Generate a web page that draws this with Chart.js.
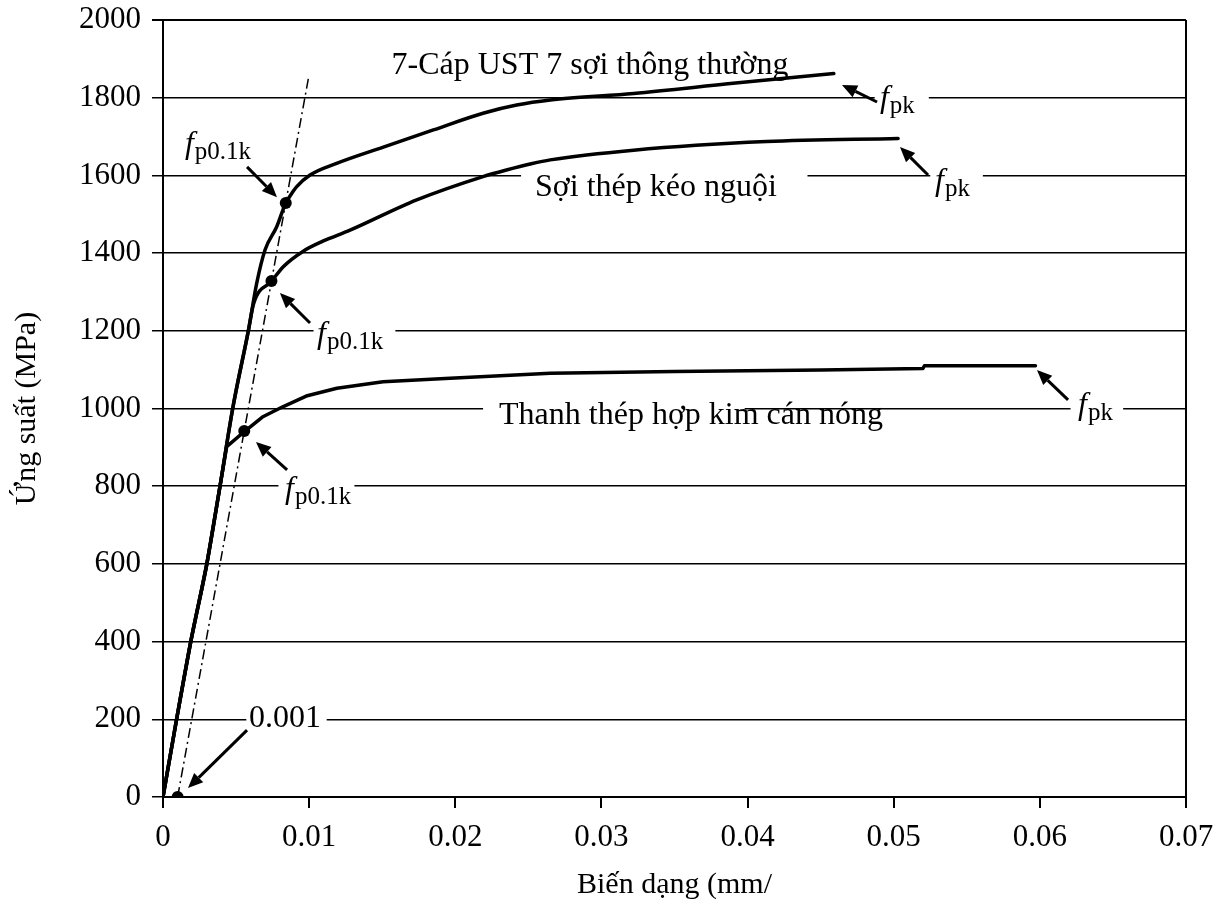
<!DOCTYPE html>
<html>
<head>
<meta charset="utf-8">
<script src="https://cdn.jsdelivr.net/npm/chart.js@4"></script>
<style>
  body { margin: 0; background: #fff; }
  canvas { display: block; }
</style>
</head>
<body>
<canvas id="stressChart" width="1224" height="903"></canvas>
<script>
// --- Data (strain, stress in MPa) ---
const strandStrain = [0, 0.00093, 0.0019, 0.003, 0.0039, 0.00477, 0.00584, 0.00641, 0.00698, 0.00778, 0.0084, 0.0088, 0.00915, 0.01006, 0.01188, 0.01508, 0.0185, 0.0219, 0.0242, 0.0265, 0.0322, 0.039, 0.0459];
const strandStress = [0, 200, 400, 600, 800, 1000, 1200, 1322, 1408, 1468, 1529, 1553, 1571, 1601, 1631, 1673, 1717, 1760, 1781, 1794, 1811, 1837, 1862];

const wireStrain = [0, 0.00093, 0.0019, 0.003, 0.0039, 0.00477, 0.00584, 0.0062, 0.00744, 0.00823, 0.0096, 0.0109, 0.0128, 0.01736, 0.0219, 0.0235, 0.0252, 0.0265, 0.0322, 0.0413, 0.0503];
const wireStress = [0, 200, 400, 600, 800, 1000, 1200, 1270, 1328, 1365, 1405, 1430, 1459, 1537, 1597, 1614, 1630, 1640, 1665, 1687, 1695];

const barStrain = [0, 0.00093, 0.0019, 0.003, 0.0039, 0.00436, 0.00561, 0.0068, 0.00823, 0.0098, 0.0119, 0.01506, 0.01964, 0.0265, 0.035, 0.045, 0.052, 0.0521, 0.0597];
const barStress = [0, 200, 400, 600, 800, 902, 942, 978, 1005, 1032, 1052, 1069, 1078, 1091, 1095, 1099, 1103, 1110, 1110];

// 0.1% offset line
const offsetStrain = [0.001, 0.00995];
const offsetStress = [0, 1850];

// proof-stress points
const proofStrain = [0.001, 0.0084, 0.00742, 0.00556];
const proofStress = [0, 1529, 1328, 942];

const yTicks = [0, 200, 400, 600, 800, 1000, 1200, 1400, 1600, 1800, 2000];
const xTicks = [0, 0.01, 0.02, 0.03, 0.04, 0.05, 0.06, 0.07];

// --- Annotations (in data units) ---
const plainText = ['7-Cáp UST 7 sợi thông thường', 'Sợi thép kéo nguội', 'Thanh thép hợp kim cán nóng', '0.001'];
const plainX = [0.02922, 0.03373, 0.03613, 0.00835];
const plainY = [1882, 1568, 981, 203];

const fSub = ['pk', 'pk', 'pk', 'p0.1k', 'p0.1k', 'p0.1k'];
const fX = [0.04906, 0.05283, 0.06261, 0.0015, 0.01054, 0.00835];
const fY = [1776, 1562, 986, 1658, 1169, 770];

const arrowFromX = [0.00575, 0.01006, 0.00849, 0.00575, 0.04886, 0.05235, 0.06193];
const arrowFromY = [1622, 1220, 842, 172, 1789, 1601, 1022];
const arrowToX = [0.0078, 0.0080, 0.00636, 0.00171, 0.04646, 0.05043, 0.0598];
const arrowToY = [1544, 1297, 914, 23, 1833, 1673, 1099];

// gridline breaks behind labels
const gapLevel = [1800, 1600, 1600, 1200, 1000, 1000, 800, 200];
const gapFrom = [0.0487, 0.0245, 0.0525, 0.0103, 0.0219, 0.0621, 0.0079, 0.0057];
const gapTo = [0.0524, 0.0441, 0.0561, 0.0159, 0.0398, 0.0657, 0.0131, 0.0112];

const SERIF = '"Liberation Serif", "DejaVu Serif", serif';

function toPoints(xs, ys) {
    return xs.map((x, i) => ({ x: x, y: ys[i] }));
}

function drawArrow(ctx, x1, y1, x2, y2) {
    const ang = Math.atan2(y2 - y1, x2 - x1);
    const len = 15, half = 6.5;
    const bx = x2 - len * Math.cos(ang), by = y2 - len * Math.sin(ang);
    ctx.beginPath();
    ctx.moveTo(x1, y1);
    ctx.lineTo(bx, by);
    ctx.stroke();
    ctx.beginPath();
    ctx.moveTo(x2, y2);
    ctx.lineTo(bx + half * Math.sin(ang), by - half * Math.cos(ang));
    ctx.lineTo(bx - half * Math.sin(ang), by + half * Math.cos(ang));
    ctx.closePath();
    ctx.fill();
}

const notesPlugin = {
    id: 'notes',
    beforeDatasetsDraw(chart) {
        const { ctx, scales: { x, y } } = chart;
        ctx.save();
        ctx.fillStyle = '#fff';
        gapLevel.forEach((lv, i) => {
            const py = y.getPixelForValue(lv);
            const x1 = x.getPixelForValue(gapFrom[i]);
            const x2 = x.getPixelForValue(gapTo[i]);
            ctx.fillRect(x1, py - 3, x2 - x1, 6);
        });
        ctx.restore();
    },
    afterDatasetsDraw(chart) {
        const { ctx, scales: { x, y } } = chart;
        ctx.save();
        ctx.fillStyle = '#000';
        ctx.strokeStyle = '#000';

        // plain labels
        ctx.font = '32px ' + SERIF;
        ctx.textAlign = 'center';
        ctx.textBaseline = 'middle';
        plainText.forEach((t, i) => {
            ctx.fillText(t, x.getPixelForValue(plainX[i]), y.getPixelForValue(plainY[i]));
        });

        // f with subscript
        ctx.textAlign = 'left';
        ctx.textBaseline = 'alphabetic';
        fSub.forEach((s, i) => {
            const px = x.getPixelForValue(fX[i]);
            const py = y.getPixelForValue(fY[i]);
            ctx.font = 'italic 32px ' + SERIF;
            ctx.fillText('f', px, py);
            const w = ctx.measureText('f').width;
            ctx.font = '25px ' + SERIF;
            ctx.fillText(s, px + w + 1, py + 6);
        });

        // arrows
        ctx.lineWidth = 3;
        arrowFromX.forEach((ax, i) => {
            drawArrow(ctx,
                x.getPixelForValue(ax), y.getPixelForValue(arrowFromY[i]),
                x.getPixelForValue(arrowToX[i]), y.getPixelForValue(arrowToY[i]));
        });
        ctx.restore();
    }
};

const curveStyle = {
    borderColor: '#000',
    borderWidth: 3.5,
    pointRadius: 0,
    tension: 0.2,
    cubicInterpolationMode: 'monotone',
    fill: false,
    borderJoinStyle: 'round',
    borderCapStyle: 'round'
};

const ctx = document.getElementById('stressChart').getContext('2d');
new Chart(ctx, {
    type: 'line',
    data: {
        datasets: [
            { label: '7-Cáp UST 7 sợi thông thường', data: toPoints(strandStrain, strandStress), ...curveStyle },
            { label: 'Sợi thép kéo nguội', data: toPoints(wireStrain, wireStress), ...curveStyle },
            { label: 'Thanh thép hợp kim cán nóng', data: toPoints(barStrain, barStress), ...curveStyle, tension: 0, cubicInterpolationMode: 'default' },
            {
                label: '0.001',
                data: toPoints(offsetStrain, offsetStress),
                borderColor: '#000',
                borderWidth: 1.5,
                borderDash: [10, 4, 2, 4],
                pointRadius: 0,
                fill: false
            },
            {
                label: 'fp0.1k',
                data: toPoints(proofStrain, proofStress),
                showLine: false,
                pointRadius: 6,
                pointBackgroundColor: '#000',
                pointBorderColor: '#000',
                pointBorderWidth: 0
            }
        ]
    },
    options: {
        responsive: false,
        animation: false,
        devicePixelRatio: 1,
        layout: { padding: { top: 20, right: 38, left: 0, bottom: 0 } },
        plugins: {
            legend: { display: false },
            tooltip: { enabled: false }
        },
        scales: {
            x: {
                type: 'linear',
                min: 0,
                max: 0.07,
                afterFit: s => { s.height = 106; s.paddingRight = 0; s.paddingLeft = 0; },
                afterBuildTicks: s => { s.ticks = xTicks.map(v => ({ value: v })); },
                ticks: {
                    color: '#000',
                    font: { family: SERIF, size: 31 },
                    padding: 11,
                    maxRotation: 0,
                    callback: v => (v === 0 ? '0' : v.toFixed(2))
                },
                grid: {
                    color: c => (c.index === xTicks.length - 1 ? '#000' : 'rgba(0,0,0,0)'),
                    tickColor: '#000',
                    lineWidth: 2,
                    tickLength: 11
                },
                border: { color: '#000', width: 2 },
                title: {
                    display: true,
                    text: 'Biến dạng (mm/',
                    color: '#000',
                    font: { family: SERIF, size: 30 },
                    padding: { top: 0, bottom: 0 }
                }
            },
            y: {
                min: 0,
                max: 2000,
                afterFit: s => { s.width = 163; s.paddingTop = 0; s.paddingBottom = 0; },
                afterBuildTicks: s => { s.ticks = yTicks.map(v => ({ value: v })); },
                ticks: {
                    color: '#000',
                    font: { family: SERIF, size: 31 },
                    padding: 11,
                    callback: v => String(v)
                },
                grid: {
                    color: '#000',
                    lineWidth: c => (c.index === yTicks.length - 1 ? 2 : 1.5),
                    tickLength: 11
                },
                border: { color: '#000', width: 2 },
                title: {
                    display: true,
                    text: 'Ứng suất (MPa)',
                    color: '#000',
                    font: { family: SERIF, size: 30 },
                    padding: { top: 9, bottom: 0 }
                }
            }
        }
    },
    plugins: [notesPlugin]
});
</script>
</body>
</html>
